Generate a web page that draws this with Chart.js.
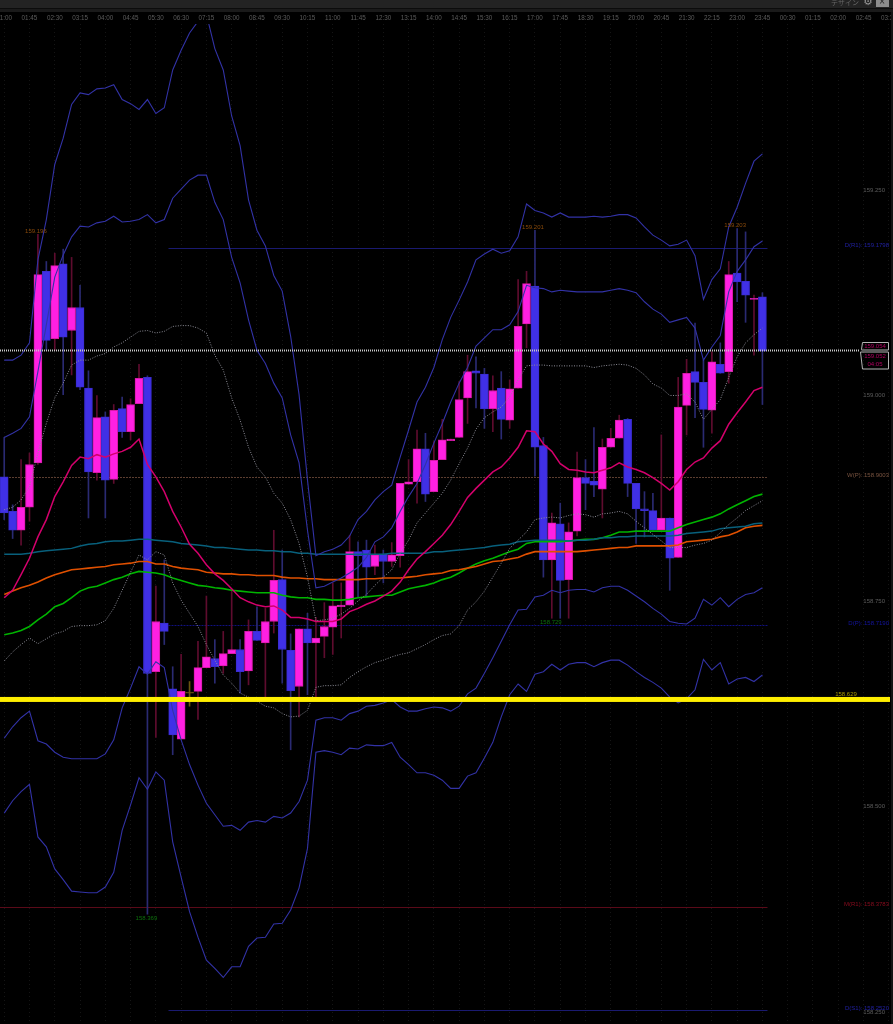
<!DOCTYPE html>
<html>
<head>
<meta charset="utf-8">
<script src="https://cdn.jsdelivr.net/npm/chart.js@4"></script>
<style>
  html, body { margin: 0; padding: 0; background: #000; }
  canvas { display: block; }
</style>
</head>
<body>
<canvas id="chart" width="893" height="1024"></canvas>
<script>
const tickLabels = ["01:00","01:45","02:30","03:15","04:00","04:45","05:30","06:30","07:15","08:00","08:45","09:30",
  "10:15","11:00","11:45","12:30","13:15","14:00","14:45","15:30","16:15","17:00","17:45","18:30","19:15","20:00",
  "20:45","21:30","22:15","23:00","23:45","00:30","01:15","02:00","02:45","03:30"];

const opens = [158.901,158.859,158.836,158.864,158.918,159.151,159.069,159.160,159.079,159.107,159.009,158.906,158.974,158.898,158.984,158.956,
  158.990,159.022,158.664,158.723,158.643,158.582,158.638,158.640,158.669,158.680,158.671,158.686,158.691,158.665,158.713,158.699,
  158.725,158.776,158.690,158.646,158.716,158.699,158.707,158.718,158.743,158.745,158.810,158.812,158.792,158.807,158.798,158.805,
  158.892,158.895,158.935,158.883,158.922,158.945,158.949,158.997,159.030,159.026,158.984,159.009,158.970,159.009,159.087,159.133,
  158.939,158.800,158.844,158.776,158.835,158.900,158.896,158.886,158.937,158.948,158.971,158.893,158.862,158.860,158.836,158.851,
  158.803,158.988,159.029,159.016,158.982,159.038,159.029,159.149,159.139,159.117,159.120];
const closes = [158.857,158.836,158.864,158.916,159.147,159.067,159.158,159.071,159.107,159.010,158.907,158.973,158.897,158.982,158.956,158.989,
  159.021,158.662,158.725,158.713,158.587,158.640,158.638,158.669,158.682,158.670,158.686,158.691,158.664,158.713,158.702,158.725,
  158.775,158.691,158.641,158.716,158.699,158.705,158.719,158.744,158.745,158.810,158.805,158.791,158.806,158.798,158.806,158.893,
  158.895,158.935,158.880,158.921,158.946,158.947,158.995,159.029,159.027,158.984,159.006,158.971,159.008,159.084,159.136,158.937,
  158.800,158.845,158.775,158.834,158.900,158.893,158.891,158.937,158.948,158.970,158.893,158.862,158.860,158.836,158.851,158.802,
  158.986,159.027,159.016,158.983,159.041,159.027,159.147,159.138,159.122,159.118,159.054];
const highs = [158.949,158.867,158.922,158.930,159.196,159.163,159.173,159.178,159.168,159.134,159.030,159.000,158.980,158.989,158.998,158.996,
  159.038,159.024,158.768,158.800,158.670,158.685,158.652,158.701,158.756,158.703,158.713,158.763,158.703,158.727,158.743,158.741,
  158.836,158.812,158.710,158.716,158.735,158.730,158.748,158.772,158.772,158.830,158.822,158.824,158.818,158.812,158.821,158.893,
  158.922,158.958,158.954,158.944,158.971,158.947,159.017,159.049,159.047,159.033,159.024,159.029,159.019,159.141,159.151,159.201,
  158.949,158.857,158.869,158.845,158.931,158.922,158.961,158.947,158.960,158.976,158.972,158.893,158.883,158.881,158.952,158.851,
  159.022,159.044,159.088,159.043,159.053,159.064,159.163,159.203,159.199,159.122,159.125];
const lows = [158.849,158.826,158.818,158.847,158.916,159.055,159.055,159.001,159.025,159.007,158.851,158.897,158.851,158.893,158.949,158.946,
  158.990,158.369,158.584,158.697,158.563,158.582,158.622,158.606,158.669,158.650,158.662,158.686,158.638,158.648,158.702,158.633,
  158.711,158.650,158.569,158.609,158.636,158.633,158.681,158.685,158.705,158.745,158.755,158.755,158.782,158.772,158.792,158.791,
  158.892,158.869,158.871,158.883,158.922,158.945,158.949,158.966,158.985,158.960,158.956,158.947,158.960,159.009,159.058,158.902,
  158.779,158.729,158.729,158.729,158.829,158.861,158.877,158.851,158.937,158.948,158.877,158.820,158.828,158.836,158.836,158.763,
  158.803,158.952,158.973,158.937,158.954,159.027,159.015,159.114,159.089,159.049,158.989];

// bollinger bands, upper side
const upper3 = [159.043,159.043,159.049,159.064,159.165,159.214,159.281,159.313,159.354,159.368,159.366,159.373,159.374,159.378,159.360,159.355,
  159.348,159.360,159.343,159.350,159.396,159.420,159.441,159.455,159.464,159.422,159.396,159.340,159.304,159.238,159.201,159.182,
  159.146,159.127,159.072,159.001,158.897,158.805,158.810,158.813,158.818,158.829,158.849,158.859,158.873,158.883,158.891,158.925,
  158.958,158.992,159.010,159.034,159.068,159.095,159.116,159.138,159.165,159.172,159.178,159.173,159.176,159.193,159.233,159.225,
  159.222,159.217,159.222,159.217,159.217,159.217,159.218,159.217,159.218,159.220,159.220,159.216,159.205,159.195,159.189,159.182,
  159.184,159.189,159.170,159.117,159.141,159.154,159.205,159.229,159.258,159.285,159.294];
const upper2 = [158.949,158.954,158.960,158.974,159.029,159.086,159.144,159.171,159.193,159.206,159.205,159.210,159.212,159.218,159.211,159.212,
  159.214,159.220,159.210,159.214,159.240,159.251,159.262,159.268,159.268,159.235,159.214,159.168,159.137,159.092,159.055,159.039,
  159.015,158.997,158.952,158.918,158.836,158.766,158.768,158.773,158.778,158.784,158.791,158.803,158.822,158.828,158.839,158.859,
  158.877,158.893,158.916,158.942,158.966,158.992,159.015,159.034,159.060,159.070,159.080,159.080,159.086,159.102,159.134,159.131,
  159.130,159.126,159.128,159.127,159.126,159.126,159.126,159.126,159.128,159.130,159.128,159.125,159.114,159.105,159.099,159.089,
  159.092,159.095,159.082,159.043,159.059,159.073,159.126,159.151,159.165,159.181,159.188];
const upper1 = [158.861,158.864,158.873,158.889,158.930,158.966,158.997,159.015,159.037,159.043,159.043,159.048,159.051,159.059,159.064,159.071,
  159.078,159.079,159.076,159.078,159.084,159.085,159.085,159.082,159.076,159.049,159.031,158.997,158.970,158.937,158.913,158.901,
  158.881,158.869,158.849,158.820,158.779,158.726,158.727,158.729,158.734,158.741,158.750,158.758,158.769,158.779,158.788,158.808,
  158.824,158.845,158.857,158.869,158.881,158.897,158.917,158.936,158.959,158.973,158.980,158.986,158.998,159.019,159.036,159.037,
  159.037,159.036,159.036,159.036,159.036,159.036,159.034,159.036,159.037,159.038,159.037,159.033,159.025,159.014,159.009,159.000,
  159.000,159.002,158.992,158.971,158.983,158.995,159.022,159.047,159.064,159.074,159.082];
// middle line
const middle = [158.754,158.763,158.782,158.802,158.828,158.849,158.877,158.895,158.915,158.925,158.923,158.928,158.925,158.929,158.932,158.937,
  158.947,158.916,158.901,158.883,158.859,158.840,158.819,158.808,158.794,158.783,158.775,158.765,158.754,158.749,158.745,158.743,
  158.744,158.739,158.730,158.730,158.728,158.725,158.725,158.725,158.728,158.737,158.741,158.746,158.750,158.756,158.762,158.773,
  158.788,158.801,158.810,158.820,158.830,158.843,158.859,158.876,158.887,158.897,158.907,158.913,158.924,158.937,158.957,158.956,
  158.941,158.932,158.917,158.910,158.909,158.907,158.906,158.909,158.912,158.918,158.913,158.910,158.906,158.900,158.893,158.885,
  158.895,158.910,158.919,158.924,158.936,158.945,158.965,158.979,158.992,159.006,159.010];
// lower side
const lower1 = [158.677,158.688,158.697,158.705,158.698,158.704,158.710,158.713,158.719,158.720,158.720,158.721,158.726,158.741,158.763,158.785,
  158.806,158.800,158.810,158.806,158.772,158.751,158.735,158.719,158.697,158.678,158.660,158.650,158.638,158.633,158.628,158.622,
  158.620,158.613,158.609,158.610,158.617,158.645,158.647,158.647,158.648,158.657,158.664,158.670,158.675,158.678,158.682,158.685,
  158.687,158.692,158.697,158.703,158.708,158.710,158.720,158.739,158.749,158.762,158.779,158.796,158.814,158.824,158.834,158.849,
  158.851,158.852,158.851,158.854,158.856,158.855,158.852,158.856,158.857,158.859,158.856,158.847,158.839,158.831,158.823,158.815,
  158.815,158.815,158.818,158.820,158.824,158.833,158.843,158.851,158.860,158.866,158.872];
const lower2 = [158.583,158.597,158.608,158.616,158.580,158.576,158.566,158.560,158.558,158.558,158.558,158.558,158.564,158.581,158.620,158.644,
  158.670,158.661,158.676,158.669,158.617,158.581,158.551,158.526,158.504,158.490,158.476,158.477,158.471,158.481,158.483,158.481,
  158.488,158.486,158.492,158.506,158.532,158.605,158.608,158.608,158.605,158.613,158.616,158.622,158.623,158.626,158.630,158.621,
  158.616,158.616,158.619,158.621,158.620,158.616,158.622,158.637,158.644,158.662,158.681,158.701,158.721,158.739,158.740,158.755,
  158.757,158.763,158.760,158.763,158.764,158.764,158.761,158.766,158.768,158.768,158.763,158.756,158.749,158.741,158.734,158.725,
  158.723,158.722,158.729,158.752,158.745,158.754,158.743,158.752,158.758,158.760,158.766];
const lower3 = [158.492,158.507,158.518,158.527,158.463,158.451,158.424,158.411,158.397,158.396,158.395,158.395,158.402,158.420,158.471,158.502,
  158.535,158.521,158.542,158.532,158.457,158.414,158.372,158.341,158.313,158.303,158.292,158.305,158.305,158.330,158.340,158.341,
  158.357,158.358,158.374,158.401,158.449,158.566,158.568,158.566,158.563,158.571,158.570,158.575,158.574,158.574,158.578,158.560,
  158.551,158.541,158.541,158.538,158.532,158.522,158.522,158.537,158.541,158.559,158.578,158.609,158.636,158.649,158.640,158.661,
  158.664,158.673,158.666,158.673,158.675,158.675,158.670,158.675,158.678,158.678,158.672,158.664,158.657,158.651,158.644,158.633,
  158.626,158.631,158.642,158.679,158.666,158.675,158.649,158.655,158.657,158.652,158.660];
// moving averages
const greenMa = [158.709,158.711,158.714,158.719,158.727,158.734,158.743,158.747,158.754,158.762,158.766,158.768,158.772,158.776,158.779,158.783,
  158.786,158.785,158.784,158.782,158.778,158.775,158.772,158.769,158.768,158.766,158.765,158.763,158.762,158.761,158.760,158.760,
  158.760,158.757,158.755,158.754,158.754,158.752,158.752,158.751,158.751,158.752,158.754,158.755,158.756,158.757,158.757,158.761,
  158.765,158.767,158.769,158.772,158.776,158.779,158.784,158.790,158.795,158.799,158.802,158.806,158.810,158.813,158.820,158.822,
  158.822,158.822,158.822,158.823,158.824,158.825,158.825,158.827,158.830,158.834,158.834,158.835,158.835,158.835,158.835,158.835,
  158.839,158.843,158.846,158.849,158.852,158.856,158.862,158.867,158.872,158.877,158.880];
const orangeMa = [158.758,158.762,158.766,158.769,158.773,158.778,158.782,158.785,158.788,158.789,158.790,158.791,158.792,158.794,158.795,158.796,
  158.798,158.798,158.795,158.795,158.792,158.790,158.789,158.788,158.785,158.784,158.783,158.783,158.782,158.782,158.781,158.781,
  158.781,158.779,158.778,158.778,158.777,158.777,158.776,158.776,158.776,158.776,158.776,158.777,158.777,158.778,158.778,158.778,
  158.779,158.780,158.782,158.783,158.784,158.787,158.788,158.790,158.792,158.795,158.798,158.799,158.801,158.803,158.807,158.810,
  158.810,158.810,158.810,158.810,158.810,158.811,158.812,158.813,158.814,158.815,158.815,158.817,158.817,158.817,158.817,158.817,
  158.818,158.822,158.823,158.824,158.825,158.828,158.830,158.834,158.839,158.841,158.842];
const tealMa = [158.807,158.807,158.807,158.808,158.810,158.811,158.812,158.813,158.814,158.817,158.819,158.820,158.822,158.823,158.823,158.824,
  158.825,158.825,158.824,158.823,158.822,158.820,158.819,158.818,158.817,158.815,158.815,158.814,158.813,158.812,158.812,158.811,
  158.811,158.810,158.810,158.808,158.808,158.807,158.807,158.807,158.807,158.807,158.807,158.807,158.807,158.807,158.808,158.808,
  158.808,158.808,158.808,158.810,158.810,158.811,158.812,158.813,158.814,158.815,158.817,158.818,158.819,158.822,158.823,158.824,
  158.824,158.824,158.824,158.823,158.824,158.824,158.825,158.827,158.827,158.828,158.828,158.829,158.829,158.829,158.829,158.829,
  158.830,158.832,158.833,158.834,158.835,158.838,158.839,158.840,158.841,158.844,158.845];

const levelNames = ["D(R1): 159.1798","W(P): 158.9003","D(P): 158.7190","M(R1): 158.3783","D(S1): 158.2520"];
const levelValues = [159.1798, 158.9003, 158.7203, 158.3783, 158.2520];
const levelLines = ["#1a1a70", "#5c3e30", "#101080", "#5a0a18", "#1a1a70"];
const levelColors = ["#2020a0", "#7a5440", "#1414a0", "#8a0c1e", "#2020a0"];
const levelStarts = [19.5, -0.5, 19.5, -0.5, 19.5];
const levelEnd = 90.6;
const supportValue = 158.629;
const askPrice = 159.054;
const bidPrice = 159.052;
const extremeIndex = [4, 63, 87];
const extremeLowIndex = [17, 65];

const categories = [];
for (let i = 0; i < tickLabels.length; i++) {
  categories.push(tickLabels[i], "", "");
}
categories.length = 106;

const wickUp = "#5e0c2e";
const wickDown = "#2a2a72";
const bandColor = "#3232a6";
const dotColor = "#8e8e98";
const isDoji = (i) => opens[i] === closes[i];
const isUp = (i) => closes[i] > opens[i];

const lineSet = (label, data, color, width, dash) => ({
  type: "line", label: label, data: data, borderColor: color, borderWidth: width,
  borderDash: dash || [], pointRadius: 0, tension: 0, order: 1, fill: false
});

function textAt(ctx, str, x, y, color, align) {
  ctx.fillStyle = color;
  ctx.textAlign = align || "center";
  ctx.textBaseline = "middle";
  ctx.fillText(str, x, y);
}

const overlay = {
  id: "overlay",
  beforeDatasetsDraw(chart) {
    const ctx = chart.ctx;
    const x = chart.scales.x;
    const y = chart.scales.y;
    ctx.save();
    ctx.lineWidth = 1;
    levelValues.forEach((v, i) => {
      const py = Math.round(y.getPixelForValue(v)) + 0.5;
      ctx.strokeStyle = levelLines[i];
      ctx.setLineDash(i === 1 || i === 2 ? [2, 1] : []);
      ctx.beginPath();
      ctx.moveTo(x.getPixelForValue(levelStarts[i]), py);
      ctx.lineTo(x.getPixelForValue(levelEnd), py);
      ctx.stroke();
    });
    ctx.restore();
  },
  afterDraw(chart) {
    const ctx = chart.ctx;
    const x = chart.scales.x;
    const y = chart.scales.y;
    ctx.save();
    ctx.font = "6px 'Liberation Sans'";

    // yellow level over everything
    const yy = y.getPixelForValue(supportValue);
    ctx.fillStyle = "#ffee00";
    ctx.fillRect(0, yy - 3.5, 890, 5);
    textAt(ctx, supportValue.toFixed(3), 846, yy - 6.5, "#a89a00");

    // current price dotted line
    const py = Math.round(y.getPixelForValue(askPrice)) - 0.5;
    ctx.strokeStyle = "#c8c8c8";
    ctx.lineWidth = 2;
    ctx.setLineDash([1, 1]);
    ctx.beginPath();
    ctx.moveTo(0, py);
    ctx.lineTo(860, py);
    ctx.stroke();
    ctx.setLineDash([]);

    // extremes
    extremeIndex.forEach((i) => {
      textAt(ctx, highs[i].toFixed(3), x.getPixelForValue(i) - 2, y.getPixelForValue(highs[i]) - 3, "#8a4a0a");
    });
    extremeLowIndex.forEach((i) => {
      textAt(ctx, lows[i].toFixed(3), x.getPixelForValue(i) - 1, y.getPixelForValue(lows[i]) + 4, "#0c700c");
    });

    // level names on the right
    levelNames.forEach((name, i) => {
      textAt(ctx, name, 889, y.getPixelForValue(levelValues[i]) - 2, levelColors[i], "right");
    });

    // price box
    ctx.strokeStyle = "#b4b4b4";
    ctx.lineWidth = 1;
    ctx.beginPath();
    ctx.moveTo(861.5, py - 1);
    ctx.lineTo(862.5, py - 8);
    ctx.lineTo(888.5, py - 8);
    ctx.lineTo(888.5, py - 0.5);
    ctx.lineTo(861.5, py - 0.5);
    ctx.closePath();
    ctx.moveTo(860.5, py + 1.5);
    ctx.lineTo(888.5, py + 1.5);
    ctx.lineTo(888.5, py + 18.5);
    ctx.lineTo(862.5, py + 18.5);
    ctx.closePath();
    ctx.stroke();
    textAt(ctx, askPrice.toFixed(3), 875, py - 4, "#b00060");
    textAt(ctx, bidPrice.toFixed(3), 875, py + 6, "#b00060");
    textAt(ctx, "04:05", 875, py + 14, "#b00060");

    // window header
    ctx.fillStyle = "#232323";
    ctx.fillRect(0, 0, 893, 8);
    ctx.fillStyle = "#0c0c0c";
    ctx.fillRect(0, 8, 893, 1);
    ctx.fillStyle = "#1a1a1a";
    ctx.fillRect(0, 9, 893, 3);
    ctx.fillStyle = "#141414";
    ctx.fillRect(891, 12, 2, 1012);
    ctx.font = "7px 'Noto Sans CJK JP'";
    textAt(ctx, "デザイン", 845, 2, "#666");
    ctx.font = "11px 'DejaVu Sans'";
    textAt(ctx, "⚙", 868, 2, "#999");
    ctx.fillStyle = "#8c8c8c";
    ctx.fillRect(876, 0, 13, 7);
    ctx.font = "8px 'DejaVu Sans'";
    textAt(ctx, "×", 882, 2, "#222");
    ctx.restore();
  }
};

const ctx = document.getElementById("chart");
const chart = new Chart(ctx, {
  type: "bar",
  data: {
    labels: categories,
    datasets: [
      lineSet("3σ upper", upper3, bandColor, 1.1),
      lineSet("2σ upper", upper2, bandColor, 1.1),
      lineSet("1σ upper", upper1, dotColor, 1, [1, 1.5]),
      lineSet("middle", middle, "#d4006c", 1.5),
      lineSet("1σ lower", lower1, dotColor, 1, [1, 1.5]),
      lineSet("2σ lower", lower2, bandColor, 1.1),
      lineSet("3σ lower", lower3, bandColor, 1.1),
      lineSet("teal", tealMa, "#08607c", 1.5),
      lineSet("orange", orangeMa, "#e05000", 1.6),
      lineSet("green", greenMa, "#00b400", 1.6),
      {
        label: "body",
        data: opens.map((o, i) => [o, closes[i]]),
        backgroundColor: opens.map((o, i) => isDoji(i) ? "#6b5510" : isUp(i) ? "#ff20e2" : "#4030e6"),
        borderColor: opens.map((o, i) => isDoji(i) ? "#6b5510" : isUp(i) ? "#d81aa8" : "#3a2cd0"),
        borderWidth: 1,
        borderSkipped: false,
        barThickness: 8,
        minBarLength: 1,
        grouped: false,
        order: 2
      },
      {
        label: "wick",
        data: highs.map((h, i) => [lows[i], h]),
        backgroundColor: highs.map((h, i) => isDoji(i) ? "#6b5510" : isUp(i) ? wickUp : wickDown),
        borderWidth: 0,
        barThickness: 1,
        grouped: false,
        order: 3
      }
    ]
  },
  options: {
    responsive: false,
    animation: false,
    layout: { padding: 0 },
    plugins: { legend: { display: false }, tooltip: { enabled: false } },
    scales: {
      x: {
        position: "top",
        offset: true,
        border: { display: false, dash: [1, 3] },
        grid: {
          offset: false,
          drawTicks: false,
          color: (c) => (c.index % 3 === 0 ? "#151515" : "transparent"),
          tickColor: "transparent",
          lineWidth: 1
        },
        ticks: {
          autoSkip: false,
          maxRotation: 0,
          padding: 2,
          color: "#5c5c5c",
          font: { size: 6.3, family: "'Liberation Sans'" },
          callback: function (v, i) { return categories[i]; }
        },
        afterFit: (s) => { s.height = 24; s.paddingLeft = 0; s.paddingRight = 0; }
      },
      y: {
        position: "right",
        min: 158.2354,
        max: 159.4519,
        border: { display: false },
        grid: { display: false, drawTicks: false },
        ticks: {
          mirror: true,
          padding: -8,
          stepSize: 0.25,
          includeBounds: false,
          color: "#5c5c5c",
          font: { size: 6, family: "'Liberation Sans'" },
          callback: (v) => v.toFixed(3)
        },
        afterFit: (s) => { s.width = 0; s.paddingTop = 0; s.paddingBottom = 0; }
      }
    }
  },
  plugins: [overlay]
});
</script>
</body>
</html>
